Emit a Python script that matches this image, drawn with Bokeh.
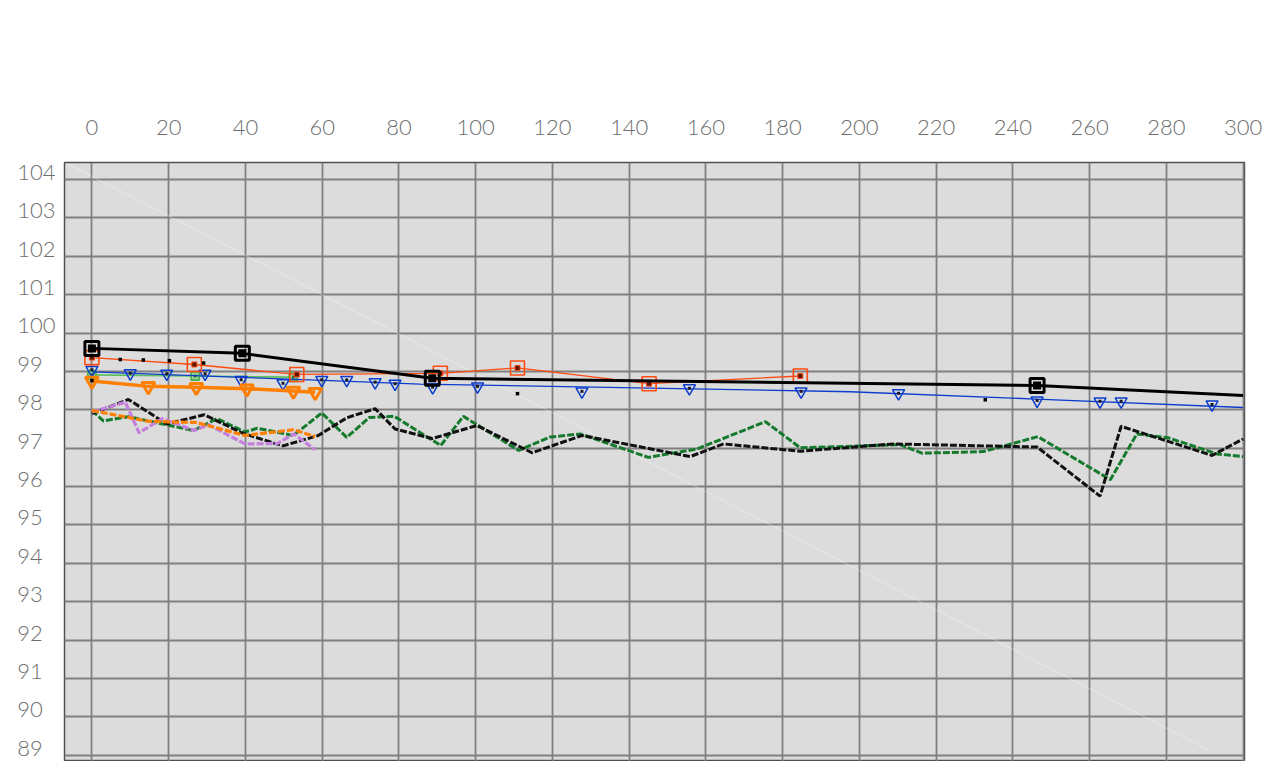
from bokeh.plotting import figure
from bokeh.models import Range1d, LinearAxis, FixedTicker
from bokeh.embed import file_html
from bokeh.resources import INLINE

# ---- axis ticks ----
X_TICKS = list(range(0, 301, 20))
Y_TICKS = list(range(89, 105))

# ---- reference run: thick black line with large squares ----
ref_x = [0, 39.2, 88.7, 246.3]
ref_y = [99.60, 99.47, 98.82, 98.63]
ref_line_x = [0, 39.2, 88.7, 246.3, 300]
ref_line_y = [99.60, 99.47, 98.82, 98.63, 98.37]

# ---- red series with open squares ----
red_x = [0, 26.7, 53.4, 90.8, 110.9, 145.2, 184.6]
red_y = [99.36, 99.18, 98.92, 98.95, 99.09, 98.68, 98.88]

# ---- blue series: triangles and its trend line ----
blue_x = [0, 10, 19.5, 29.5, 38.9, 49.8, 59.9, 66.4, 73.8, 79.0, 88.8, 100.5,
          127.7, 155.7, 184.8, 210.2, 246.3, 262.7, 268.2, 291.9]
blue_y = [99.04, 98.95, 98.94, 98.94, 98.78, 98.69, 98.78, 98.78, 98.72, 98.68,
          98.59, 98.61, 98.48, 98.56, 98.48, 98.43, 98.24, 98.22, 98.22, 98.14]
blue_trend_x = [0, 62.1, 85.5, 197.6, 246.1, 300]
blue_trend_y = [98.99, 98.76, 98.67, 98.47, 98.28, 98.06]

# ---- light green series with small squares ----
lgreen_x = [0, 26.9, 52.5]
lgreen_y = [98.91, 98.88, 98.85]

# ---- orange series with triangles ----
orange_x = [0, 14.7, 27.2, 40.4, 52.5, 58.2]
orange_y = [98.75, 98.61, 98.59, 98.55, 98.49, 98.46]

# ---- isolated readings ----
dots_x = [0, 7.4, 13.4, 20.2, 29.1, 110.9, 232.8]
dots_y = [98.76, 99.31, 99.30, 99.28, 99.22, 98.42, 98.26]

# ---- lower dashed traces ----
kdash_x = [0, 9.5, 19.5, 29.3, 39.5, 49.8, 59.0, 66.4, 73.8, 79.0, 88.7, 100.3,
           114.7, 127.7, 155.9, 164.6, 184.6, 208.9, 246.3, 262.7, 268.2, 291.9, 300]
kdash_y = [97.90, 98.27, 97.63, 97.87, 97.38, 97.06, 97.33, 97.79, 98.03, 97.50,
           97.25, 97.59, 96.88, 97.33, 96.78, 97.11, 96.92, 97.11, 97.03, 95.75,
           97.57, 96.81, 97.24]

gdash_x = [0, 3.0, 9.5, 26.5, 32.6, 39.9, 43.1, 52.5, 59.9, 66.4, 72.3, 78.8,
           90.9, 96.8, 111.2, 119.4, 127.3, 145.0, 157.7, 175.5, 184.6, 210.6,
           216.3, 232.3, 246.5, 265.4, 272.3, 280.5, 293.2, 300]
gdash_y = [97.98, 97.71, 97.82, 97.46, 97.77, 97.42, 97.52, 97.33, 97.92, 97.28,
           97.80, 97.83, 97.07, 97.83, 96.94, 97.29, 97.37, 96.76, 96.98, 97.69,
           97.01, 97.09, 96.87, 96.91, 97.30, 96.18, 97.37, 97.27, 96.85, 96.78]

odash_x = [0, 14.7, 27.2, 39.9, 52.5, 58.2]
odash_y = [97.98, 97.70, 97.67, 97.33, 97.48, 97.30]

vdash_x = [0, 8.7, 12.3, 18.3, 26.7, 30.4, 39.9, 48.3, 52.7, 58.1]
vdash_y = [97.94, 98.20, 97.40, 97.77, 97.46, 97.61, 97.11, 97.12, 97.37, 96.96]

# faint diagonal streak across the plotting area
streak_x = [-6.4, 291.4]
streak_y = [104.41, 89.12]

X_START, X_END = -7.14, 300.35
Y_START, Y_END = 88.836, 104.443
LABEL_LIFT = 0.21  # tick labels sit just above their grid lines

LABEL_FONT = "'Lato Light', Lato"
LABEL_COLOR = "#6e6e6e"

p = figure(
    width=1267, height=761,
    x_range=Range1d(X_START, X_END), y_range=Range1d(Y_START, Y_END),
    x_axis_location="above", y_axis_location=None,
    output_backend="svg", toolbar_location=None,
    min_border_left=64, min_border_right=23, min_border_top=162, min_border_bottom=0,
)
p.background_fill_color = "#dcdcdc"
p.border_fill_color = "white"
p.outline_line_color = "#505050"
p.outline_line_width = 1.5

# grids
p.xgrid.ticker = FixedTicker(ticks=X_TICKS)
p.ygrid.ticker = FixedTicker(ticks=Y_TICKS)
for g in (p.xgrid, p.ygrid):
    g.grid_line_color = "#808080"
    g.grid_line_width = 1.8

# top axis
xa = p.xaxis[0]
xa.ticker = FixedTicker(ticks=X_TICKS)
xa.axis_line_color = None
xa.major_tick_line_color = None
xa.minor_tick_line_color = None
xa.major_label_text_font = LABEL_FONT
xa.major_label_text_font_size = "22px"
xa.major_label_text_color = LABEL_COLOR
xa.major_label_standoff = 22

# left axis on a slightly shifted range so labels rest on their grid lines
p.extra_y_ranges = {"labels": Range1d(Y_START - LABEL_LIFT, Y_END - LABEL_LIFT)}
ya = LinearAxis(y_range_name="labels", ticker=FixedTicker(ticks=Y_TICKS))
ya.axis_line_color = None
ya.major_tick_line_color = None
ya.minor_tick_line_color = None
ya.major_label_text_font = LABEL_FONT
ya.major_label_text_font_size = "22px"
ya.major_label_text_color = LABEL_COLOR
ya.major_label_standoff = 3
overrides = {}
for v in Y_TICKS:
    if v < 100:
        overrides[v] = f"{v}\u2007"
        overrides[str(v)] = f"{v}\u2007"
ya.major_label_overrides = overrides
p.add_layout(ya, "left")

p.line(streak_x, streak_y, line_color="white", line_alpha=0.35, line_width=1)

# lower dashed traces
DASH = "7 2"
p.line(gdash_x, gdash_y, line_color="#157a2c", line_width=3, line_dash=DASH)
p.line(kdash_x, kdash_y, line_color="#111111", line_width=3, line_dash=DASH)
p.line(vdash_x, vdash_y, line_color="#c57fdc", line_width=3.2, line_dash=DASH)
p.line(odash_x, odash_y, line_color="#ff8000", line_width=3.2, line_dash=DASH)

# light green squares
p.line(lgreen_x, lgreen_y, line_color="#5cbf5c", line_width=1.6)
p.scatter(lgreen_x, lgreen_y, marker="square", size=8, line_color="#52b152",
          line_width=2, fill_color="#9fd89f")
p.scatter(lgreen_x, lgreen_y, marker="square", size=3, line_color=None,
          fill_color="#2f6f2f")

# blue triangles
p.line(blue_trend_x, blue_trend_y, line_color="#0c3ccc", line_width=1.3)
p.scatter(blue_x, blue_y, marker="inverted_triangle", size=12, line_color="#0c3ccc",
          line_width=1.5, fill_color=None)
p.scatter(blue_x, blue_y, marker="square", size=3, line_color=None,
          fill_color="#1a1a2a")

# orange triangles
p.line(orange_x, orange_y, line_color="#ff7f00", line_width=3.5)
p.scatter(orange_x, orange_y, marker="inverted_triangle", size=13, line_color="#ff7f00",
          line_width=3, fill_color=None)

# red squares
p.line(red_x, red_y, line_color="#ff4a10", line_width=1.3)
p.scatter(red_x, red_y, marker="square", size=14, line_color="#ff4a10",
          line_width=1.6, fill_color=None)
p.scatter(red_x, red_y, marker="square", size=5, line_color="#ff4a10",
          line_width=1, fill_color="#5a1400")

# isolated readings
p.scatter(dots_x, dots_y, marker="square", size=3.5, line_color=None,
          fill_color="black")

# reference run
p.line(ref_line_x, ref_line_y, line_color="black", line_width=3)
p.scatter(ref_x, ref_y, marker="square", size=14, line_color="black",
          line_width=3, fill_color=None)
p.scatter(ref_x, ref_y, marker="square", size=8, line_color=None,
          fill_color="black")

open("out.html", "w").write(file_html(p, INLINE))
